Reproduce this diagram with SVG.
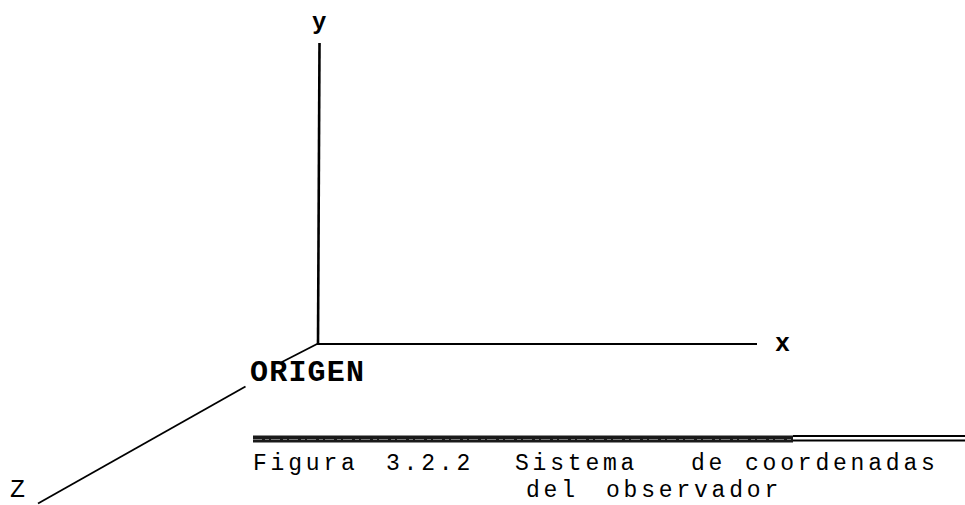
<svg xmlns="http://www.w3.org/2000/svg" width="965" height="505" viewBox="0 0 965 505">
  <style>
    .ax { stroke: #000; fill: none; stroke-linecap: butt; }
    .lbl { font-family: "Liberation Mono", "Courier New", monospace; fill: #000; }
    .cap { font-family: "Liberation Mono", "Courier New", monospace; font-size: 23px; fill: #000; letter-spacing: 3.8px; }
  </style>
  <rect width="965" height="505" fill="#fff"/>
  <g id="connectors">
    <line class="ax" x1="319.5" y1="43" x2="318" y2="344" stroke-width="2.6"/>
    <line class="ax" x1="317" y1="344" x2="757" y2="344" stroke-width="2.2"/>
    <line class="ax" x1="318" y1="343.5" x2="281.5" y2="362.3" stroke-width="1.8"/>
    <line class="ax" x1="245.5" y1="386.5" x2="38" y2="503.5" stroke-width="1.8"/>
  </g>
  <g id="label-y"><text class="lbl" x="312" y="29" font-size="24" font-weight="bold">y</text></g>
  <g id="label-x"><text class="lbl" x="775" y="351" font-size="25" font-weight="bold">x</text></g>
  <g id="label-z"><text class="lbl" x="10" y="497" font-size="25">Z</text></g>
  <g id="origen"><text class="lbl" x="250" y="381" font-size="30" font-weight="bold" letter-spacing="1.2">ORIGEN</text></g>
  <g id="rule">
    <rect x="253" y="435.5" width="540" height="7" fill="#1a1a1a"/>
    <line x1="253" y1="439.5" x2="793" y2="439.5" stroke="#777" stroke-width="1" stroke-dasharray="9 3 4 2"/>
    <line x1="793" y1="436" x2="965" y2="436" stroke="#000" stroke-width="2"/>
    <line x1="793" y1="440.5" x2="965" y2="440.5" stroke="#000" stroke-width="2"/>
  </g>
  <g id="caption">
    <text class="cap" y="470"><tspan x="253">Figura</tspan><tspan x="386">3.2.2</tspan><tspan x="515">Sistema</tspan><tspan x="691">de</tspan><tspan x="745">coordenadas</tspan></text>
    <text class="cap" y="497"><tspan x="526">del</tspan><tspan x="606">observador</tspan></text>
  </g>
</svg>
